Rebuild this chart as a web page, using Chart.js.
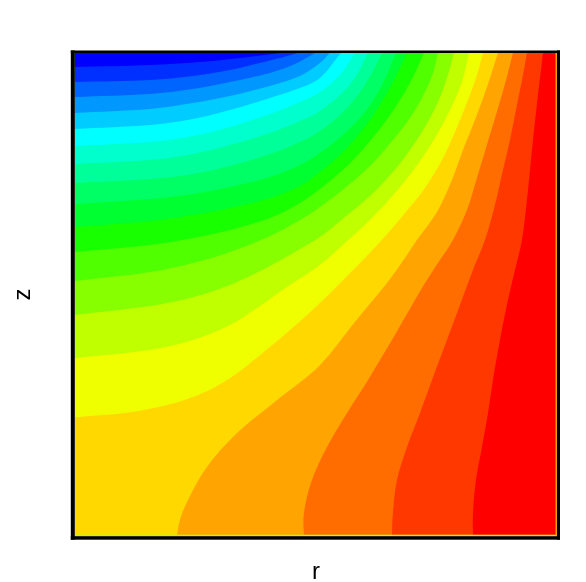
<!DOCTYPE html>
<html>
<head>
<meta charset="utf-8">
<script src="https://cdn.jsdelivr.net/npm/chart.js@4/dist/chart.umd.min.js"></script>
<style>
  html, body { margin: 0; padding: 0; background: #fff; }
  #wrap { width: 586px; height: 582px; }
</style>
</head>
<body>
<div id="wrap"><canvas id="chart"></canvas></div>
<script>
// domain of the plot (r across, z up)
const rRange = [0, 482];
const zRange = [0, 483];

// contour band colours, lowest level first
const bandColors = [
  "#0000ff", "#0030ff", "#0064ff", "#0098ff", "#00ccff",
  "#00ffff", "#00ffcc", "#00ff98", "#00ff64", "#00ff30",
  "#18ff00", "#50ff00", "#88ff00", "#c0ff00", "#f0ff00",
  "#ffd800", "#ffa400", "#ff6c00", "#ff3800", "#ff0000"
];

// contour lines [r, z]
// lines 1-15 run from the left edge to the top edge
const c01 = [[0,469],[75,471],[125,474],[165,478],[190,481],[205,483]];
const c02 = [[0,454],[75,456],[118,460],[155,466],[185,473],[205,478],[223,483]];
const c03 = [[0,439],[75,442],[118,447],[155,454],[195,463],[220,472],[240,483]];
const c04 = [[0,423],[75,427],[118,433],[155,440],[195,450],[225,460],[245,473],[255,483]];
const c05 = [[0,407],[75,411],[118,417],[155,426],[195,438],[225,448],[245,458],[266,483]];
const c06 = [[0,390],[75,394],[118,400],[155,409],[195,422],[225,434],[245,444],[265,461],[280,483]];
const c07 = [[0,372],[75,376],[118,382],[155,391],[195,403],[225,415],[245,425],[265,441],[280,458],[293,483]];
const c08 = [[0,353],[75,357],[118,362],[155,370],[195,382],[225,394],[245,405],[265,421],[283,441],[297,463],[307,483]];
const c09 = [[0,332],[75,337],[118,342],[155,349],[195,359],[225,371],[245,383],[270,403],[290,424],[307,451],[321,483]];
const c10 = [[0,309],[75,315],[118,321],[155,328],[195,338],[225,350],[245,364],[265,381],[285,403],[303,428],[318,454],[332,483]];
const c11 = [[0,284],[75,291],[118,298],[155,306],[195,318],[225,333],[245,347],[270,368],[290,389],[310,414],[325,436],[338,459],[349,483]];
const c12 = [[0,255],[75,264],[118,273],[155,284],[195,300],[225,316],[245,329],[270,348],[295,370],[318,396],[337,421],[350,444],[358,463],[363,483]];
const c13 = [[0,221],[75,230],[115,238],[155,251],[195,270],[225,287],[245,299],[270,319],[295,340],[318,364],[335,386],[350,409],[363,434],[372,458],[379,483]];
const c14 = [[0,178],[75,186],[118,196],[155,211],[185,230],[215,251],[245,271],[270,293],[295,316],[320,343],[340,368],[360,398],[375,426],[387,454],[394,483]];
const c15 = [[0,119],[55,124],[95,132],[125,142],[155,158],[185,181],[215,206],[245,233],[275,263],[305,294],[330,323],[350,348],[367,376],[380,404],[391,431],[401,458],[408,483]];
// lines 16-19 run from the bottom edge to the top edge
const c16 = [[102,0],[105,16],[113,36],[132,69],[162,103],[202,136],[245,171],[280,214],[312,253],[330,278],[342,296],[362,324],[377,356],[388,386],[400,416],[412,449],[423,483]];
const c17 = [[229,0],[229,23],[237,56],[252,89],[272,123],[293,156],[320,201],[340,236],[352,256],[365,276],[378,296],[392,326],[402,358],[411,388],[421,421],[430,452],[438,483]];
const c18 = [[317,0],[318,23],[322,56],[332,89],[345,123],[357,156],[372,196],[385,231],[398,266],[410,296],[420,331],[428,366],[435,396],[442,431],[448,461],[452,483]];
const c19 = [[398,0],[398,23],[401,56],[407,89],[413,123],[418,156],[425,196],[433,236],[440,266],[447,296],[453,346],[458,396],[463,441],[468,483]];

const contours = [c01, c02, c03, c04, c05, c06, c07, c08, c09, c10,
                  c11, c12, c13, c14, c15, c16, c17, c18, c19];

const rMin = rRange[0], rMax = rRange[1], zMin = zRange[0], zMax = zRange[1];

// region below each level = area between the contour and the top-left corner.
// the end of the contour is repeated so the smoothing does not bend it near the edge
function regionFor(line) {
  const pts = line.map(p => ({ x: p[0], y: p[1] }));
  const last = line[line.length - 1];
  pts.push({ x: last[0], y: last[1] });
  pts.push({ x: rMin, y: zMax });
  if (line[0][1] === zMin) pts.push({ x: rMin, y: zMin });
  return pts;
}

const datasets = contours.map((line, i) => ({
  data: regionFor(line),
  backgroundColor: bandColors[i],
  borderWidth: 0,
  pointRadius: 0,
  tension: 0.35,
  fill: "shape"
}));
// highest band covers the whole domain, drawn underneath everything
datasets.push({
  data: [{ x: rMin, y: zMin }, { x: rMax, y: zMin }, { x: rMax, y: zMax }, { x: rMin, y: zMax }],
  backgroundColor: bandColors[bandColors.length - 1],
  borderWidth: 0,
  pointRadius: 0,
  fill: "shape"
});

// black frame round the plot, plus the thin edge strips of the original
const framePlugin = {
  id: "frame",
  afterDatasetsDraw(chart) {
    const { ctx, chartArea: a } = chart;
    ctx.save();
    ctx.fillStyle = "#b4ff00";
    ctx.fillRect(a.left, a.bottom - 1.5, a.right - a.left, 1.5);
    ctx.fillStyle = "#ffa000";
    ctx.fillRect(a.right - 1.5, a.top, 1.5, a.bottom - a.top);
    ctx.fillStyle = "#000";
    ctx.fillRect(a.left - 4, a.top - 2.5, 4, a.bottom - a.top + 6);
    ctx.fillRect(a.left - 4, a.top - 2.5, a.right - a.left + 7, 2.5);
    ctx.fillRect(a.right, a.top - 2.5, 3, a.bottom - a.top + 6);
    ctx.fillRect(a.left - 4, a.bottom, a.right - a.left + 7, 3.5);
    ctx.restore();
  }
};

const titleFont = { family: "'Liberation Sans', Arial, sans-serif", size: 24 };

new Chart(document.getElementById("chart"), {
  type: "line",
  data: { datasets },
  options: {
    responsive: true,
    maintainAspectRatio: false,
    animation: false,
    events: [],
    layout: { padding: { top: 53, right: 29, left: 0, bottom: 0 } },
    plugins: {
      legend: { display: false },
      tooltip: { enabled: false }
    },
    scales: {
      x: {
        type: "linear",
        min: rMin,
        max: rMax,
        grid: { display: false, drawTicks: false },
        border: { display: false },
        ticks: { display: false },
        title: { display: true, text: "r", color: "#000", font: titleFont, padding: { top: 22, bottom: -5 } }
      },
      y: {
        type: "linear",
        min: zMin,
        max: zMax,
        grid: { display: false, drawTicks: false },
        border: { display: false },
        ticks: { display: false },
        title: { display: true, text: "z", color: "#000", font: titleFont, padding: { top: 9, bottom: 37 } }
      }
    }
  },
  plugins: [framePlugin]
});
</script>
</body>
</html>
